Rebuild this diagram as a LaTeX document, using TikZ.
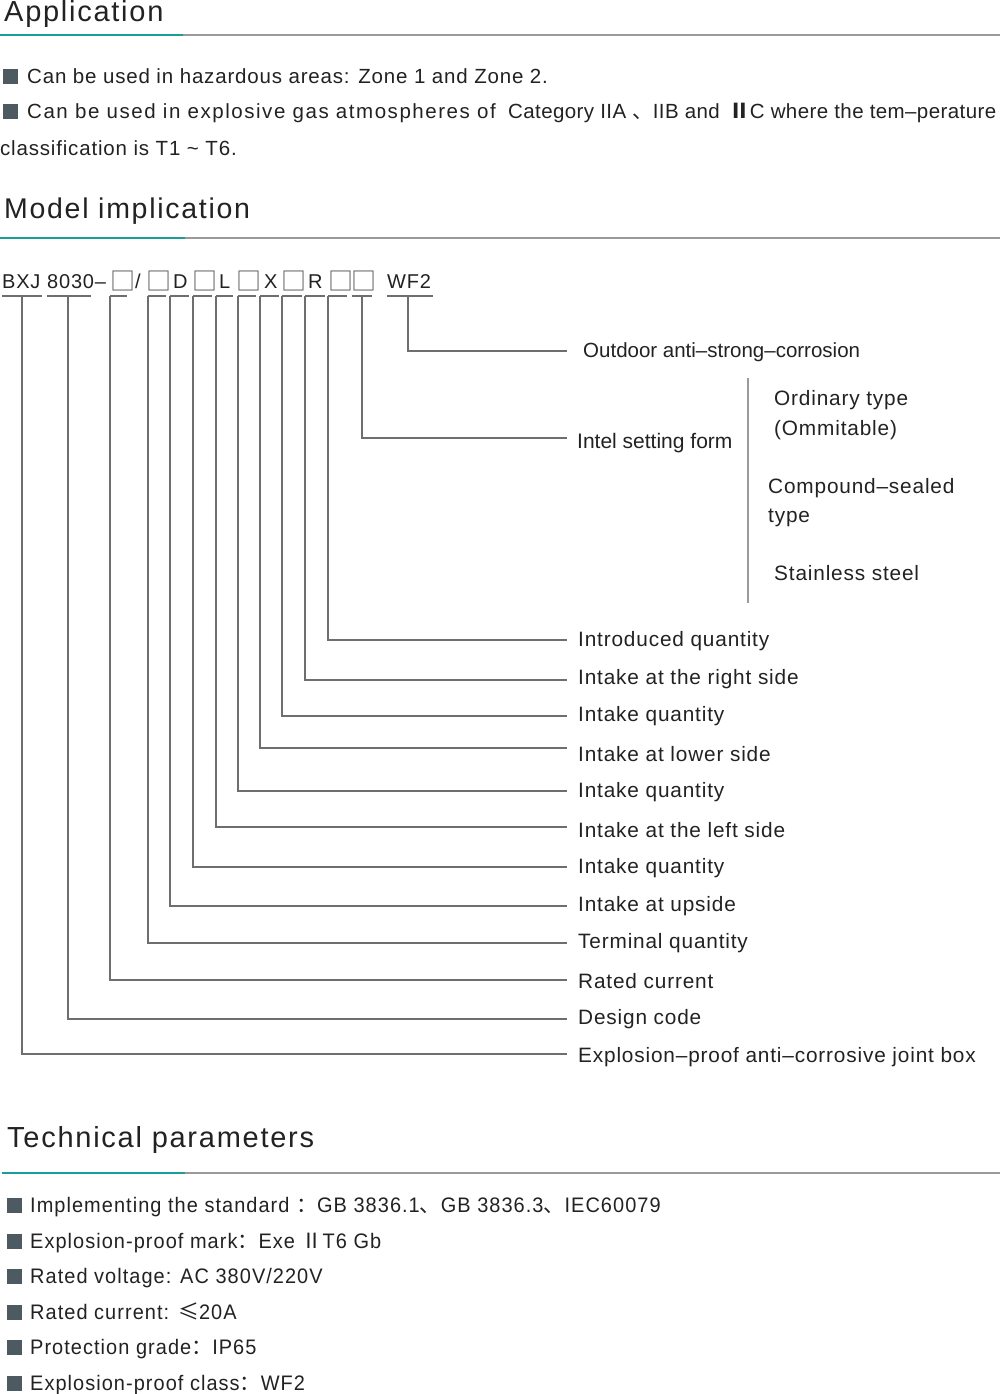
\documentclass[tikz,border=0pt]{standalone}
\usepackage{fontspec}
\setmainfont{Liberation Sans}
\newfontfamily\cjk{Noto Sans CJK SC}
\newfontfamily\bodyf[LetterSpace=4]{Liberation Sans}
\newfontfamily\widef[LetterSpace=7.5]{Liberation Sans}
\newfontfamily\narf[LetterSpace=2]{Liberation Sans}
\newfontfamily\headf[LetterSpace=6]{Liberation Sans}
\newfontfamily\condf[FakeStretch=0.95,LetterSpace=5]{Liberation Sans}
\definecolor{ink}{HTML}{222222}
\definecolor{tealc}{HTML}{1A9E9A}
\definecolor{rulec}{HTML}{9A9A9A}
\definecolor{linec}{HTML}{6E6E6E}
\definecolor{bulc}{HTML}{4E5A62}
\definecolor{boxc}{HTML}{555555}
\begin{document}
\begin{tikzpicture}[x=1pt,y=-1pt,
  txt/.style={anchor=base west,inner sep=0pt,text=ink,font=\bodyf\fontsize{20.5}{24}\selectfont},
  codetxt/.style={anchor=base west,inner sep=0pt,text=ink,font=\bodyf\fontsize{20}{23}\selectfont},
  sq/.style={anchor=base west,inner sep=0pt,text=boxc,font=\cjk\fontsize{25}{25}\selectfont},
  head/.style={anchor=base west,inner sep=0pt,text=ink,font=\headf\fontsize{29}{32}\selectfont},
  lab/.style={anchor=west,inner sep=0pt,text=ink,text height=14.5pt,text depth=0pt,font=\bodyf\fontsize{20.8}{24}\selectfont},
  tech/.style={anchor=base west,inner sep=0pt,text=ink,font=\condf\fontsize{21}{24}\selectfont},
  bullet/.style={fill=bulc,draw=none,minimum size=15pt,inner sep=0pt,anchor=north west},
  conn/.style={draw=linec,line width=1.1pt},
  tealrule/.style={draw=tealc,line width=2pt},
  grayrule/.style={draw=rulec,line width=2pt},
  vbar/.style={draw=rulec,line width=1.6pt}
]
\useasboundingbox[fill=white] (0,0) rectangle (1000,1394);

% ---------- Application ----------
\node[head] (hApp) at (4,22) {Application};
\draw[tealrule] (0,35) -- (183,35);
\draw[grayrule] (183,35) -- (1000,35);

\node[bullet] (b1) at (3,69) {};
\node[txt] (t1) at (27,84) {Can be used in hazardous areas: Zone 1 and Zone 2.};
\node[bullet] (b2) at (3,104) {};
\node[txt,font=\widef\fontsize{20.5}{24}\selectfont] (t2a) at (27,119) {Can be used in explosive gas atmospheres of};
\node[txt,font=\narf\fontsize{20.5}{24}\selectfont] (t2b) at (508,119) {Category IIA {\cjk 、}IIB and \,{\cjk\bfseries Ⅱ}C where the tem–perature};
\node[txt] (t3) at (0,155) {classification is T1 \textasciitilde{} T6.};

% ---------- Model implication ----------
\node[head,font=\headf\fontsize{28.5}{32}\selectfont] (hMod) at (4,218) {Model implication};
\draw[tealrule] (0,238) -- (185,238);
\draw[grayrule] (185,238) -- (1000,238);

% code string
\node[codetxt] (c1) at (2,288) {BXJ};
\node[codetxt] (c2) at (47,288) {8030–};
\node[sq] (q1) at (110,290.5) {□};
\node[codetxt] (c3) at (135,288) {/};
\node[sq] (q2) at (146,290.5) {□};
\node[codetxt] (c4) at (173,288) {D};
\node[sq] (q3) at (192,290.5) {□};
\node[codetxt] (c5) at (219,288) {L};
\node[sq] (q4) at (236,290.5) {□};
\node[codetxt] (c6) at (264,288) {X};
\node[sq] (q5) at (281,290.5) {□};
\node[codetxt] (c7) at (308,288) {R};
\node[sq] (q6) at (328,290.5) {□};
\node[sq] (q7) at (351,290.5) {□};
\node[codetxt] (c8) at (387,288) {WF2};

% underline segments
\foreach \l/\r in {2/42,47/91,110/127,148/166,170/189,193/212,216/233,238/256,260/279,282/302,305/325,328/347,352/372,387/433}{
  \draw[conn] (\l,296) -- (\r,296);
}

% labels and connectors
\foreach \sx/\ly/\ty/\lx/\nm/\tx in {
  408/351/350/583/d1/{\fontspec{Liberation Sans}\fontsize{20.5}{24}\selectfont Outdoor anti–strong–corrosion},
  362/438/441/577/d2/{\fontspec{Liberation Sans}\fontsize{21}{24}\selectfont Intel setting form},
  328/640/639/578/d3/{Introduced quantity},
  305/680/677/578/d4/{Intake at the right side},
  282/716/714/578/d5/{Intake quantity},
  260/748/754/578/d6/{Intake at lower side},
  238/791/790/578/d7/{Intake quantity},
  216/827/830/578/d8/{Intake at the left side},
  193/867/866/578/d9/{Intake quantity},
  170/906/904/578/d10/{Intake at upside},
  148/943/941/578/d11/{Terminal quantity},
  110/980/981/578/d12/{Rated current},
  68/1019/1017/578/d13/{Design code},
  22/1054/1055/578/d14/{Explosion–proof anti–corrosive joint box}}{
  \node[lab] (\nm) at (\lx,\ty) {\tx};
  \coordinate (\nm s) at (\sx,296);
  \pgfmathsetmacro\dy{\ty-\ly}
  \pgfmathsetmacro\dx{567-\lx}
  \draw[conn] (\nm s) |- ([xshift=\dx pt,yshift=\dy pt]\nm.west);
}

% options of the inlet setting form
\coordinate (vt) at (748,378);
\coordinate (vb) at (748,603);
\draw[vbar] (vt) -- (vb);
\node[lab] (o1) at (774,398) {Ordinary type};
\node[lab] (o2) at (774,428) {(Ommitable)};
\node[lab] (o3) at (768,486) {Compound–sealed};
\node[lab] (o4) at (768,515) {type};
\node[lab] (o5) at (774,573) {Stainless steel};

% ---------- Technical parameters ----------
\node[head] (hTech) at (7,1147) {Technical parameters};
\draw[tealrule] (2,1173) -- (185,1173);
\draw[grayrule] (185,1173) -- (1000,1173);

\foreach \y/\nm/\tx in {
  1205/p1/{Implementing the standard {\cjk ：}GB 3836.1{\cjk 、}GB 3836.3{\cjk 、}IEC60079},
  1241/p2/{Explosion-proof mark{\cjk ：}Exe {\cjk Ⅱ}T6 Gb},
  1276/p3/{Rated voltage: AC 380V/220V},
  1312/p4/{Rated current: {\cjk ≤}20A},
  1347/p5/{Protection grade{\cjk ：}IP65},
  1383/p6/{Explosion-proof class{\cjk ：}WF2}}{
  \node[bullet] (\nm b) at (7,\y-7.5) {};
  \node[tech] (\nm) at (30,\y+7.5) {\tx};
}
\end{tikzpicture}
\end{document}
